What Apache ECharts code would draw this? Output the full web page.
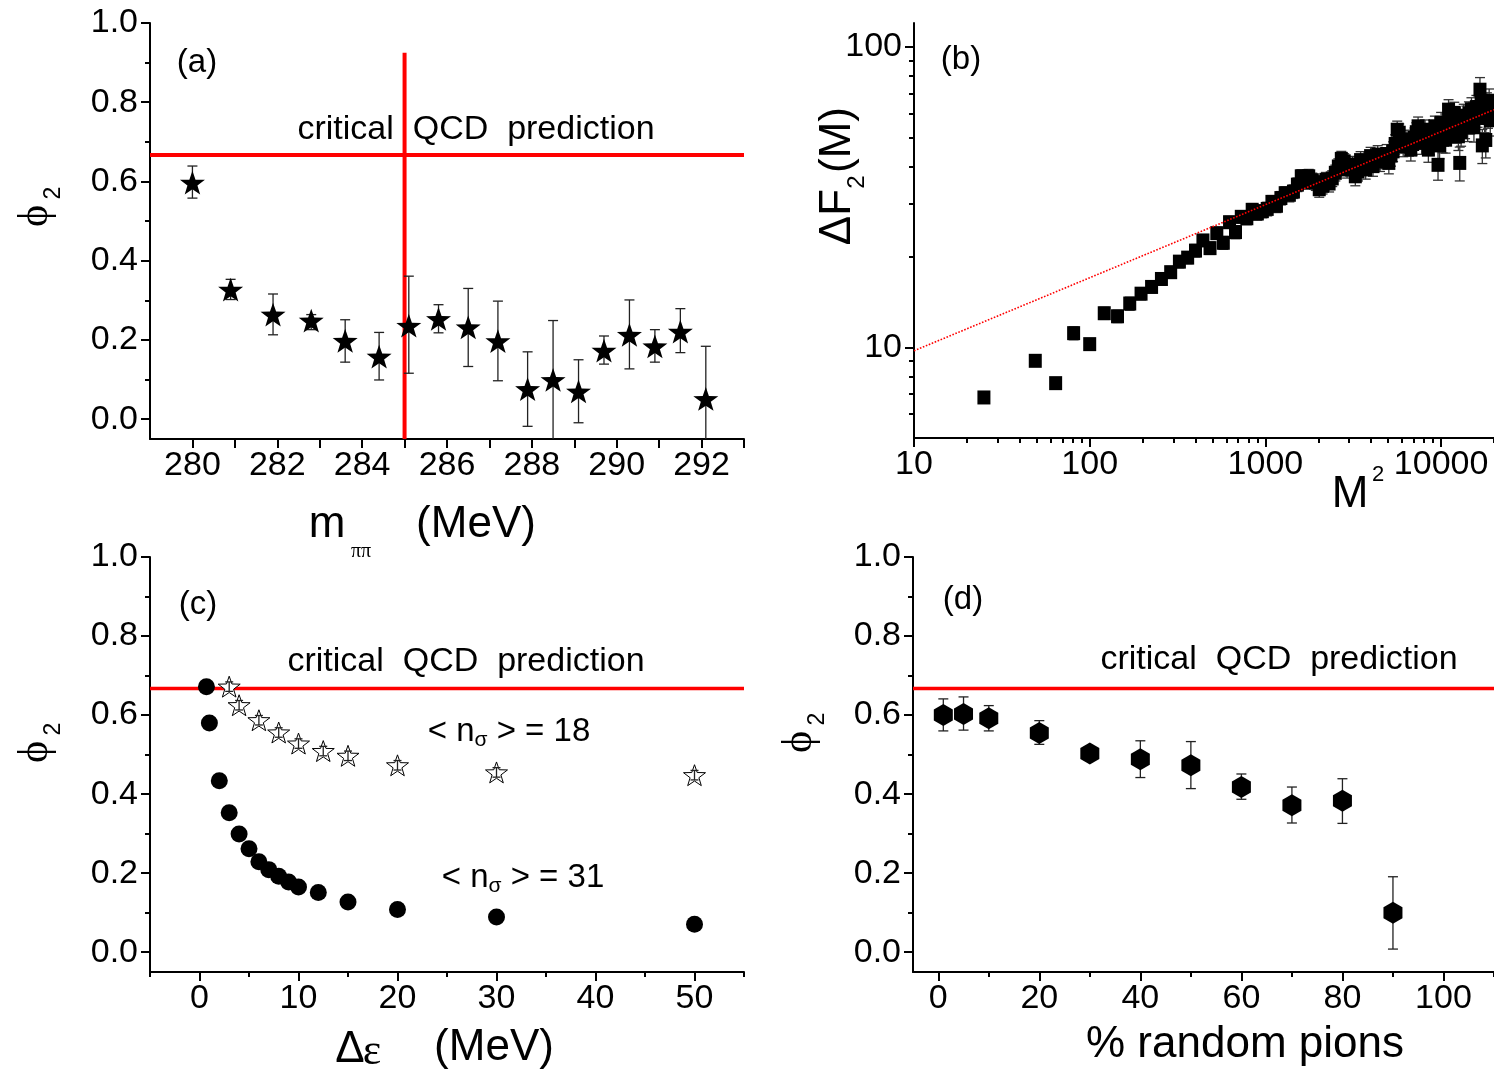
<!DOCTYPE html>
<html>
<head>
<meta charset="utf-8">
<script src="https://cdn.jsdelivr.net/npm/echarts@6/dist/echarts.min.js"></script>
<style>
  html, body { margin: 0; padding: 0; background: #fff; }
  #main { width: 1494px; height: 1071px; }
</style>
</head>
<body>
<div id="main"></div>
<script>
// ---- data ----
// (a) phi_2 vs m_pipi
const aMass = [280.0, 280.9, 281.9, 282.8, 283.6, 284.4, 285.1, 285.8, 286.5, 287.2, 287.9, 288.5, 289.1, 289.7, 290.3, 290.9, 291.5, 292.1]
const aPhi  = [0.597, 0.327, 0.264, 0.249, 0.198, 0.158, 0.236, 0.253, 0.232, 0.197, 0.076, 0.099, 0.070, 0.173, 0.213, 0.184, 0.221, 0.051]
const aHi   = [0.639, 0.353, 0.316, 0.264, 0.251, 0.219, 0.361, 0.289, 0.330, 0.298, 0.170, 0.249, 0.150, 0.210, 0.301, 0.226, 0.279, 0.184]
const aLo   = [0.558, 0.302, 0.213, 0.226, 0.144, 0.099, 0.116, 0.218, 0.133, 0.097, -0.018, -0.06, -0.009, 0.139, 0.127, 0.144, 0.168, -0.06]
const aCritMass = 285.0
const aCritTop = 0.925

const qcdPrediction = 0.667

// (b) Delta F_2(M) vs M^2 (log-log)
const bM2 = [25, 49, 64, 81, 100, 121, 144, 169, 196, 225, 256, 289, 324, 361, 400, 441, 484, 529, 576, 625,
  676, 729, 784, 841, 900, 961, 1024, 1089, 1156, 1225, 1296, 1369, 1444, 1521, 1600, 1681, 1764, 1849, 1936, 2025,
  2116, 2209, 2304, 2401, 2500, 2601, 2704, 2809, 2916, 3025, 3136, 3249, 3364, 3481, 3600, 3721, 3844, 3969, 4096, 4225,
  4356, 4489, 4624, 4761, 4900, 5041, 5184, 5329, 5476, 5625, 5776, 5929, 6084, 6241, 6400, 6561, 6724, 6889, 7056, 7225,
  7396, 7569, 7744, 7921, 8100, 8281, 8464, 8649, 8836, 9025, 9216, 9409, 9604, 9801, 10000, 10201, 10404, 10609, 10816, 11025,
  11236, 11449, 11664, 11881, 12100, 12321, 12544, 12769, 12996, 13225, 13456, 13689, 13924, 14161, 14400, 14641, 14884, 15129, 15376, 15625,
  15876, 16129, 16384, 16641, 16900, 17161, 17424, 17689, 17956, 18225, 18496, 18769, 19044, 19321, 19600]
const bF2 = [6.82, 9.03, 7.61, 11.16, 10.26, 13.0, 12.7, 14.0, 15.1, 15.9, 16.9, 17.8, 19.3, 19.9, 21.0, 22.7, 21.4, 24.0, 22.3, 26.1,
  24.2, 27.2, 26.9, 28.7, 27.9, 28.4, 28.9, 30.5, 29.6, 31.4, 32.6, 32.2, 33.0, 34.8, 37.1, 35.5, 37.1, 36.0, 35.3, 33.6,
  34.5, 36.1, 35.1, 36.5, 38.1, 40.0, 42.4, 41.6, 39.1, 39.8, 40.6, 37.1, 38.5, 42.0, 40.5, 39.1, 41.5, 43.3, 40.1, 42.0,
  43.8, 41.6, 42.5, 42.7, 44.0, 41.1, 43.5, 44.9, 47.5, 53.0, 51.8, 49.0, 46.7, 48.0, 49.1, 47.0, 45.5, 47.5, 49.8, 52.0,
  54.4, 50.5, 47.9, 50.0, 53.0, 49.0, 45.5, 48.0, 50.4, 52.5, 54.4, 50.0, 40.5, 47.0, 55.9, 49.1, 52.0, 49.1, 55.0, 61.8,
  57.0, 53.0, 56.0, 60.3, 57.5, 53.0, 50.4, 41.1, 52.0, 56.0, 59.0, 55.0, 58.0, 54.0, 60.0, 57.0, 62.0, 58.0, 54.0, 59.0,
  63.0, 60.0, 63.0, 72.0, 66.0, 47.0, 62.0, 58.0, 49.0, 64.0, 60.0, 66.0, 57.0, 63.0, 61.0]
const bErr = [0.25, 0.35, 0.3, 0.55, 0.45, 0.6, 0.6, 0.7, 0.7, 0.7, 0.8, 0.8, 0.9, 0.9, 1.0, 1.0, 1.0, 1.1, 1.1, 1.2,
  1.2, 1.3, 1.3, 1.4, 1.4, 1.4, 1.5, 1.5, 1.5, 1.6, 1.6, 1.7, 1.7, 1.8, 1.9, 1.9, 2.0, 2.0, 2.0, 2.0,
  2.1, 2.1, 2.2, 2.2, 2.3, 2.4, 2.5, 2.5, 2.5, 2.6, 2.6, 2.6, 2.7, 2.8, 2.8, 2.8, 2.9, 3.0, 3.0, 3.0,
  3.1, 3.1, 3.2, 3.2, 3.3, 3.3, 3.4, 3.4, 3.5, 3.6, 3.6, 3.6, 3.6, 3.7, 3.7, 3.7, 3.8, 3.8, 3.9, 3.9,
  4.0, 4.0, 4.0, 4.1, 4.1, 4.2, 4.2, 4.3, 4.3, 4.4, 4.4, 4.5, 4.5, 4.6, 4.6, 4.7, 4.7, 4.8, 4.8, 4.9,
  4.9, 5.0, 5.0, 5.1, 5.1, 5.2, 5.2, 5.3, 5.3, 5.4, 5.4, 5.5, 5.5, 5.6, 5.6, 5.7, 5.7, 5.8, 5.8, 5.9,
  5.9, 6.0, 6.0, 7.0, 6.1, 6.1, 6.2, 6.2, 6.3, 6.3, 6.4, 6.4, 6.5, 6.5, 6.6]
const bFitX = [10, 20000]
const bFitY = [9.75, 61.8]

// (c) phi_2 vs Delta epsilon
const cDelta31 = [0.7, 1, 2, 3, 4, 5, 6, 7, 8, 9, 10, 12, 15, 20, 30, 50]
const cPhi31   = [0.672, 0.580, 0.434, 0.353, 0.299, 0.262, 0.229, 0.209, 0.192, 0.178, 0.165, 0.151, 0.127, 0.108, 0.089, 0.071]
const cDelta18 = [3, 4, 6, 8, 10, 12.5, 15, 20, 30, 50]
const cPhi18   = [0.672, 0.625, 0.587, 0.556, 0.528, 0.509, 0.497, 0.473, 0.455, 0.448]
const cErr18   = [0.012, 0.012, 0.012, 0.012, 0.012, 0.012, 0.012, 0.012, 0.012, 0.012]

// (d) phi_2 vs % random pions
const dRandom = [1, 5, 10, 20, 30, 40, 50, 60, 70, 80, 90]
const dPhi = [0.600, 0.603, 0.592, 0.555, 0.503, 0.488, 0.473, 0.418, 0.372, 0.383, 0.100]
const dHi  = [0.641, 0.646, 0.624, 0.586, 0.510, 0.535, 0.533, 0.451, 0.418, 0.439, 0.191]
const dLo  = [0.560, 0.562, 0.560, 0.526, 0.496, 0.442, 0.414, 0.387, 0.327, 0.326, 0.008]

// tick positions
const phiMajor = [0, 0.2, 0.4, 0.6, 0.8, 1.0]
const phiMinor = [0.1, 0.3, 0.5, 0.7, 0.9]
const aTicks = [280, 281, 282, 283, 284, 285, 286, 287, 288, 289, 290, 291, 292, 293]
const aLabels = [280, 282, 284, 286, 288, 290, 292]
const bXMajor = [10, 100, 1000, 10000]
const bXMinor = [20, 30, 40, 50, 60, 70, 80, 90, 200, 300, 400, 500, 600, 700, 800, 900,
  2000, 3000, 4000, 5000, 6000, 7000, 8000, 9000, 20000]
const bYMajor = [10, 100]
const bYMinor = [6, 7, 8, 9, 20, 30, 40, 50, 60, 70, 80, 90]
const cMajor = [0, 10, 20, 30, 40, 50]
const cMinor = [-5, 5, 15, 25, 35, 45, 55]
const dMajor = [0, 20, 40, 60, 80, 100]
const dMinor = [10, 30, 50, 70, 90, 110]

const FONT = '"Liberation Sans", Arial, sans-serif'
const RED = '#ff0000'
const STAR = 'path://M0,-10L2.35,-3.24L9.51,-3.09L3.8,1.24L5.88,8.09L0,4.1L-5.88,8.09L-3.8,1.24L-9.51,-3.09L-2.35,-3.24Z'
const HEX = 'path://M0,-10L8.66,-5L8.66,5L0,10L-8.66,5L-8.66,-5Z'

var myChart = echarts.init(document.getElementById('main'))

function mainAxis(dim, grid, type, min, max, ticks, labels, fmt) {
  return {
    type: type, gridIndex: grid, min: min, max: max,
    position: dim === 'x' ? 'bottom' : 'left',
    axisLine: { show: true, onZero: false, lineStyle: { color: '#000', width: 2 } },
    axisTick: { show: true, length: 9, customValues: ticks, lineStyle: { color: '#000', width: 2 } },
    axisLabel: { show: true, customValues: labels, fontSize: 34, color: '#000', fontFamily: FONT,
                 margin: dim === 'x' ? 10 : 12, formatter: fmt },
    splitLine: { show: false }, minorTick: { show: false }, minorSplitLine: { show: false }
  }
}
function minorAxis(dim, grid, type, min, max, ticks) {
  return {
    type: type, gridIndex: grid, min: min, max: max,
    position: dim === 'x' ? 'bottom' : 'left',
    axisLine: { show: false, onZero: false },
    axisTick: { show: true, length: 5, customValues: ticks, lineStyle: { color: '#000', width: 2 } },
    axisLabel: { show: false },
    splitLine: { show: false }
  }
}
const phiFmt = v => v.toFixed(1)
const numFmt = v => String(Math.round(v))

function errBars(xi, yi, xs, lo, hi, color, cap, z) {
  return {
    type: 'custom', xAxisIndex: xi, yAxisIndex: yi, clip: true, z: z || 2,
    data: xs.map((x, i) => [x, lo[i], hi[i]]),
    encode: { x: 0, y: [1, 2] },
    renderItem: function (params, api) {
      const p0 = api.coord([api.value(0), api.value(1)])
      const p1 = api.coord([api.value(0), api.value(2)])
      const st = { stroke: color, lineWidth: 1.3 }
      return { type: 'group', children: [
        { type: 'line', shape: { x1: p0[0], y1: p0[1], x2: p1[0], y2: p1[1] }, style: st },
        { type: 'line', shape: { x1: p0[0] - cap, y1: p0[1], x2: p0[0] + cap, y2: p0[1] }, style: st },
        { type: 'line', shape: { x1: p1[0] - cap, y1: p1[1], x2: p1[0] + cap, y2: p1[1] }, style: st }
      ] }
    }
  }
}

function txt(x, y, text, size, extra) {
  const el = { type: 'text', x: x, y: y, z: 100,
    style: { text: text, fontSize: size, fontFamily: FONT, fill: '#000', align: 'center', verticalAlign: 'middle' } }
  if (extra) Object.assign(el.style, extra.style || {})
  if (extra && extra.rotation) el.rotation = extra.rotation
  return el
}
const ROT = Math.PI / 2
const SERIF = '"Liberation Serif", "DejaVu Serif", serif'
const nRich = { a: { fontSize: 33, fontFamily: FONT }, s: { fontSize: 21, fontFamily: FONT, padding: [16, 0, 0, 0] } }

var option = {
  animation: false,
  backgroundColor: '#fff',
  grid: [
    { left: 150, top: 23, width: 594, height: 416 },
    { left: 914, top: 23, width: 582, height: 415 },
    { left: 150, top: 557, width: 594, height: 415 },
    { left: 913, top: 557, width: 599, height: 415 }
  ],
  xAxis: [
    mainAxis('x', 0, 'value', 279, 293, aTicks, aLabels, numFmt),
    minorAxis('x', 0, 'value', 279, 293, []),
    mainAxis('x', 1, 'log', 10, 20000, bXMajor, bXMajor, numFmt),
    minorAxis('x', 1, 'log', 10, 20000, bXMinor),
    mainAxis('x', 2, 'value', -5, 55, cMajor, cMajor, numFmt),
    minorAxis('x', 2, 'value', -5, 55, cMinor),
    mainAxis('x', 3, 'value', -5, 110, dMajor, dMajor, numFmt),
    minorAxis('x', 3, 'value', -5, 110, dMinor)
  ],
  yAxis: [
    mainAxis('y', 0, 'value', -0.05, 1.0, phiMajor, phiMajor, phiFmt),
    minorAxis('y', 0, 'value', -0.05, 1.0, phiMinor),
    mainAxis('y', 1, 'log', 5, 120, bYMajor, bYMajor, numFmt),
    minorAxis('y', 1, 'log', 5, 120, bYMinor),
    mainAxis('y', 2, 'value', -0.05, 1.0, phiMajor, phiMajor, phiFmt),
    minorAxis('y', 2, 'value', -0.05, 1.0, phiMinor),
    mainAxis('y', 3, 'value', -0.05, 1.0, phiMajor, phiMajor, phiFmt),
    minorAxis('y', 3, 'value', -0.05, 1.0, phiMinor)
  ],
  series: [
    // (a)
    { type: 'line', xAxisIndex: 0, yAxisIndex: 0, symbol: 'none', z: 1,
      data: [[279, qcdPrediction], [293, qcdPrediction]], lineStyle: { color: RED, width: 4 } },
    { type: 'line', xAxisIndex: 0, yAxisIndex: 0, symbol: 'none', z: 1,
      data: [[aCritMass, -0.05], [aCritMass, aCritTop]], lineStyle: { color: RED, width: 4 } },
    errBars(0, 0, aMass, aLo, aHi, '#222', 5),
    { type: 'scatter', xAxisIndex: 0, yAxisIndex: 0, symbol: STAR, symbolSize: 25, symbolKeepAspect: true, z: 3,
      itemStyle: { color: '#000', opacity: 1 }, data: aMass.map((x, i) => [x, aPhi[i]]) },
    // (b)
    errBars(2, 2, bM2, bF2.map((v, i) => v - bErr[i]), bF2.map((v, i) => v + bErr[i]), '#333', 5),
    { type: 'scatter', xAxisIndex: 2, yAxisIndex: 2, symbol: 'rect', symbolSize: [13, 14], z: 3,
      itemStyle: { color: '#000', opacity: 1 }, data: bM2.map((x, i) => [x, bF2[i]]) },
    { type: 'line', xAxisIndex: 2, yAxisIndex: 2, symbol: 'none', z: 4,
      data: bFitX.map((x, i) => [x, bFitY[i]]), lineStyle: { color: RED, width: 1.6, type: 'dotted' } },
    // (c)
    { type: 'line', xAxisIndex: 4, yAxisIndex: 4, symbol: 'none', z: 1,
      data: [[-5, qcdPrediction], [55, qcdPrediction]], lineStyle: { color: RED, width: 3.5 } },
    { type: 'scatter', xAxisIndex: 4, yAxisIndex: 4, symbol: 'circle', symbolSize: 17, z: 3,
      itemStyle: { color: '#000', opacity: 1 }, data: cDelta31.map((x, i) => [x, cPhi31[i]]) },
    { type: 'scatter', xAxisIndex: 4, yAxisIndex: 4, symbol: STAR, symbolSize: 22, symbolKeepAspect: true, z: 3,
      itemStyle: { color: '#fff', borderColor: '#000', borderWidth: 1, opacity: 1 },
      data: cDelta18.map((x, i) => [x, cPhi18[i]]) },
    errBars(4, 4, cDelta18, cPhi18.map((v, i) => v - cErr18[i]), cPhi18.map((v, i) => v + cErr18[i]), '#222', 4, 4),
    // (d)
    { type: 'line', xAxisIndex: 6, yAxisIndex: 6, symbol: 'none', z: 1,
      data: [[-5, qcdPrediction], [110, qcdPrediction]], lineStyle: { color: RED, width: 3.5 } },
    errBars(6, 6, dRandom, dLo, dHi, '#222', 5),
    { type: 'scatter', xAxisIndex: 6, yAxisIndex: 6, symbol: HEX, symbolSize: [19, 22], z: 3,
      itemStyle: { color: '#000', opacity: 1 }, data: dRandom.map((x, i) => [x, dPhi[i]]) }
  ],
  graphic: [
    // panel tags and notes
    txt(197, 63, '(a)', 33),
    txt(961, 60, '(b)', 33),
    txt(198, 605, '(c)', 33),
    txt(963, 600, '(d)', 33),
    txt(476, 130, 'critical  QCD  prediction', 34),
    txt(466, 662, 'critical  QCD  prediction', 34),
    txt(1279, 660, 'critical  QCD  prediction', 34),
    txt(509, 732, '{a|< n}{s|σ}{a| > = 18}', 33, { style: { rich: nRich } }),
    txt(523, 878, '{a|< n}{s|σ}{a| > = 31}', 33, { style: { rich: nRich } }),
    // axis titles
    txt(327, 525, 'm', 44),
    txt(361, 552, 'ππ', 20, { style: { fontFamily: SERIF } }),
    txt(476, 525, '(MeV)', 44),
    txt(350, 1050, 'Δ', 44),
    txt(372, 1052, 'ε', 44, { style: { fontFamily: SERIF } }),
    txt(494, 1048, '(MeV)', 44),
    txt(1245, 1045, '% random pions', 44),
    txt(1350, 495, 'M', 44),
    txt(1378, 475, '2', 22),
    txt(838, 217, 'ΔF', 44, { rotation: ROT }),
    txt(857, 182, '2', 24, { rotation: ROT }),
    txt(838, 140, '(M)', 44, { rotation: ROT }),
    txt(36, 216, 'ϕ', 42, { rotation: ROT, style: { fontFamily: SERIF } }),
    txt(54, 193, '2', 23, { rotation: ROT }),
    txt(36, 752, 'ϕ', 42, { rotation: ROT, style: { fontFamily: SERIF } }),
    txt(54, 729, '2', 23, { rotation: ROT }),
    txt(800, 742, 'ϕ', 42, { rotation: ROT, style: { fontFamily: SERIF } }),
    txt(818, 719, '2', 23, { rotation: ROT })
  ]
}

myChart.setOption(option)
</script>
</body>
</html>
